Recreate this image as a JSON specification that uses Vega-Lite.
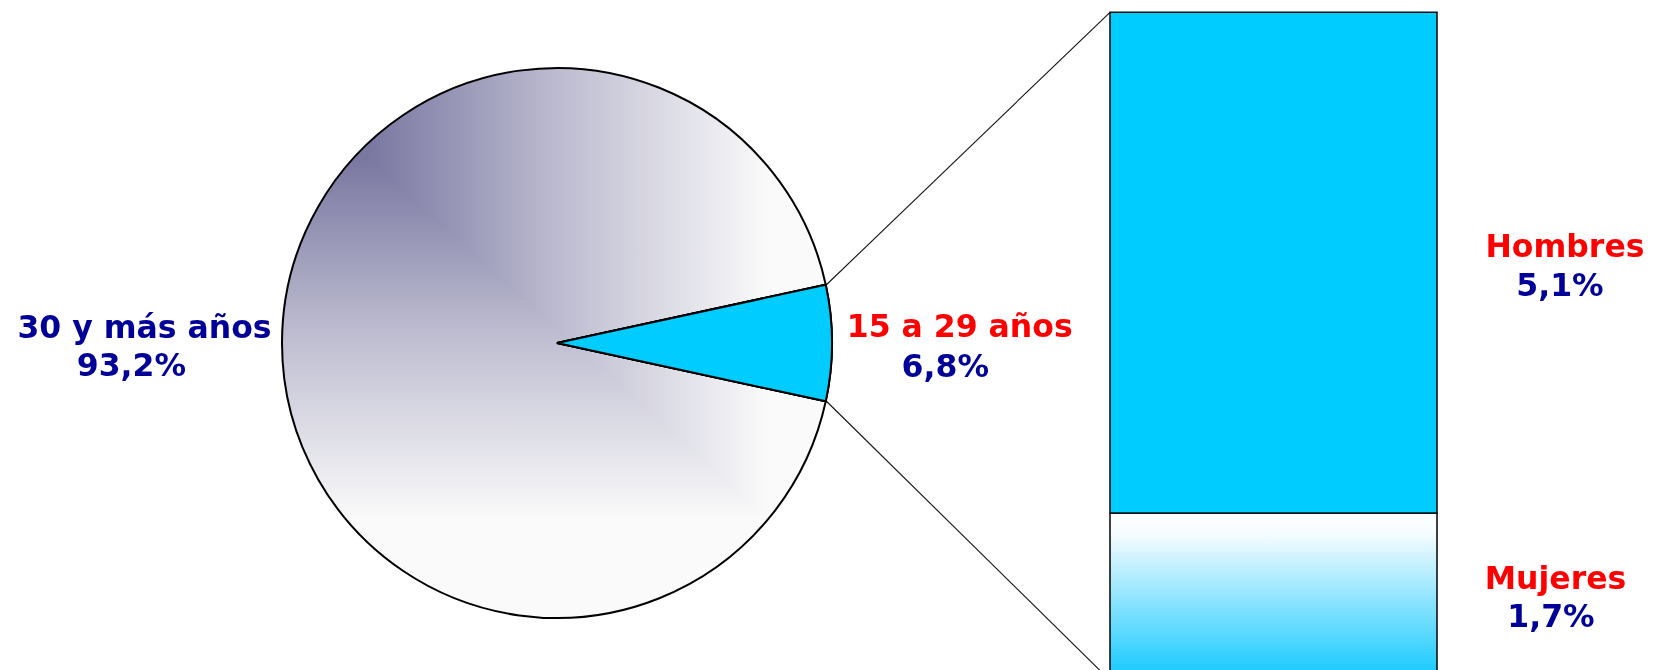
{
  "$schema": "https://vega.github.io/schema/vega-lite/v6.json",
  "width": 1654,
  "height": 670,
  "autosize": {"type": "none"},
  "padding": 0,
  "background": "#ffffff",
  "config": {"view": {"stroke": null}, "text": {"font": "DejaVu Sans", "fontWeight": "bold", "fontSize": 31.5}},
  "datasets": {
    "edades": [
      {"grupo": "15 a 29 años", "pct": 6.8},
      {"grupo": "30 y más años", "pct": 93.2}
    ],
    "sexo": [
      {"sexo": "Hombres", "pct": 5.1},
      {"sexo": "Mujeres", "pct": 1.7}
    ]
  },
  "layer": [
    {
      "data": {"name": "edades"},
      "transform": [
        {"stack": "pct", "groupby": [], "sort": [{"field": "pct", "order": "ascending"}], "as": ["t0", "t1"]},
        {"filter": "datum.grupo === '30 y más años'"}
      ],
      "mark": {"type": "arc", "outerRadius": 275, "strokeWidth": 0,
        "fill": {"gradient": "linear", "x1": 0.161, "y1": 0, "x2": 0.895, "y2": 0,
          "stops": [
            {"offset": 0, "color": "#7a78a1"},
            {"offset": 0.5, "color": "#c0bfd2"},
            {"offset": 1, "color": "#fafafa"}
          ]}},
      "encoding": {
        "theta": {"field": "t0", "type": "quantitative", "scale": {"domain": [0, 100], "range": [1.35717, 7.64036]}},
        "theta2": {"field": "t1"},
        "x": {"datum": 557, "type": "quantitative", "scale": {"domain": [0, 1654], "nice": false, "zero": false}, "axis": null},
        "y": {"datum": 3.4334, "type": "quantitative", "scale": {"domain": [0.105, 6.925], "nice": false, "zero": false}, "axis": null}
      }
    },
    {
      "data": {"name": "edades"},
      "transform": [
        {"stack": "pct", "groupby": [], "sort": [{"field": "pct", "order": "ascending"}], "as": ["t0", "t1"]},
        {"filter": "datum.grupo === '30 y más años'"}
      ],
      "mark": {"type": "arc", "outerRadius": 275, "strokeWidth": 0, "blend": "lighten",
        "fill": {"gradient": "linear", "x1": 0, "y1": 0.167, "x2": 0, "y2": 0.822,
          "stops": [
            {"offset": 0, "color": "#7a78a1"},
            {"offset": 0.5, "color": "#c0bfd2"},
            {"offset": 1, "color": "#fafafa"}
          ]}},
      "encoding": {
        "theta": {"field": "t0", "type": "quantitative", "scale": {"domain": [0, 100], "range": [1.35717, 7.64036]}},
        "theta2": {"field": "t1"},
        "x": {"datum": 557, "type": "quantitative", "scale": {"domain": [0, 1654], "nice": false, "zero": false}, "axis": null},
        "y": {"datum": 3.4334, "type": "quantitative", "scale": {"domain": [0.105, 6.925], "nice": false, "zero": false}, "axis": null}
      }
    },
    {
      "data": {"name": "edades"},
      "transform": [
        {"stack": "pct", "groupby": [], "sort": [{"field": "pct", "order": "ascending"}], "as": ["t0", "t1"]}
      ],
      "mark": {"type": "arc", "outerRadius": 275, "stroke": "#000000", "strokeWidth": 2, "fillOpacity": 0, "fill": "#ffffff"},
      "encoding": {
        "theta": {"field": "t0", "type": "quantitative", "scale": {"domain": [0, 100], "range": [1.35717, 7.64036]}},
        "theta2": {"field": "t1"},
        "x": {"datum": 557, "type": "quantitative", "scale": {"domain": [0, 1654], "nice": false, "zero": false}, "axis": null},
        "y": {"datum": 3.4334, "type": "quantitative", "scale": {"domain": [0.105, 6.925], "nice": false, "zero": false}, "axis": null}
      }
    },
    {
      "data": {"name": "edades"},
      "transform": [
        {"stack": "pct", "groupby": [], "sort": [{"field": "pct", "order": "ascending"}], "as": ["t0", "t1"]},
        {"filter": "datum.grupo === '15 a 29 años'"}
      ],
      "mark": {"type": "arc", "outerRadius": 275, "stroke": "#000000", "strokeWidth": 2, "fill": "#00ccff"},
      "encoding": {
        "theta": {"field": "t0", "type": "quantitative", "scale": {"domain": [0, 100], "range": [1.35717, 7.64036]}},
        "theta2": {"field": "t1"},
        "x": {"datum": 557, "type": "quantitative", "scale": {"domain": [0, 1654], "nice": false, "zero": false}, "axis": null},
        "y": {"datum": 3.4334, "type": "quantitative", "scale": {"domain": [0.105, 6.925], "nice": false, "zero": false}, "axis": null}
      }
    },
    {
      "data": {"values": [{}]},
      "mark": {"type": "rule", "stroke": "#111111", "strokeWidth": 1.1, "clip": true},
      "encoding": {
        "x": {"datum": 826.7, "type": "quantitative", "scale": {"domain": [0, 1654], "nice": false, "zero": false}, "axis": null},
        "x2": {"datum": 1110},
        "y": {"datum": 4.029, "type": "quantitative", "scale": {"domain": [0.105, 6.925], "nice": false, "zero": false}, "axis": null},
        "y2": {"datum": 6.8}
      }
    },
    {
      "data": {"values": [{}]},
      "mark": {"type": "rule", "stroke": "#111111", "strokeWidth": 1.1, "clip": true},
      "encoding": {
        "x": {"datum": 826.7, "type": "quantitative", "scale": {"domain": [0, 1654], "nice": false, "zero": false}, "axis": null},
        "x2": {"datum": 1110},
        "y": {"datum": 2.838, "type": "quantitative", "scale": {"domain": [0.105, 6.925], "nice": false, "zero": false}, "axis": null},
        "y2": {"datum": 0}
      }
    },
    {
      "data": {"name": "sexo"},
      "transform": [
        {"stack": "pct", "groupby": [], "sort": [{"field": "pct", "order": "ascending"}], "as": ["y0", "y1"]},
        {"filter": "datum.sexo === 'Hombres'"}
      ],
      "mark": {"type": "rect", "fill": "#00ccff", "stroke": "#111111", "strokeWidth": 1.6, "clip": true},
      "encoding": {
        "x": {"datum": 1110, "type": "quantitative", "scale": {"domain": [0, 1654], "nice": false, "zero": false}, "axis": null},
        "x2": {"datum": 1437},
        "y": {"field": "y0", "type": "quantitative", "scale": {"domain": [0.105, 6.925], "nice": false, "zero": false}, "axis": null},
        "y2": {"field": "y1"}
      }
    },
    {
      "data": {"name": "sexo"},
      "transform": [
        {"stack": "pct", "groupby": [], "sort": [{"field": "pct", "order": "ascending"}], "as": ["y0", "y1"]},
        {"filter": "datum.sexo === 'Mujeres'"}
      ],
      "mark": {"type": "rect", "stroke": "#111111", "strokeWidth": 1.6, "clip": true,
        "fill": {"gradient": "linear", "x1": 0, "y1": 0, "x2": 0, "y2": 1,
          "stops": [
            {"offset": 0, "color": "#ffffff"},
            {"offset": 0.12, "color": "#f6fcff"},
            {"offset": 1, "color": "#10c8ff"}
          ]}},
      "encoding": {
        "x": {"datum": 1110, "type": "quantitative", "scale": {"domain": [0, 1654], "nice": false, "zero": false}, "axis": null},
        "x2": {"datum": 1437},
        "y": {"field": "y0", "type": "quantitative", "scale": {"domain": [0.105, 6.925], "nice": false, "zero": false}, "axis": null},
        "y2": {"field": "y1"}
      }
    },
    {
      "data": {"name": "edades"},
      "transform": [{"filter": "datum.grupo === '30 y más años'"}],
      "mark": {"type": "text", "align": "center", "baseline": "alphabetic", "fill": "#000099"},
      "encoding": {
        "text": {"field": "grupo"},
        "x": {"datum": 144.5, "type": "quantitative", "scale": {"domain": [0, 1654], "nice": false, "zero": false}, "axis": null},
        "y": {"datum": 3.487, "type": "quantitative", "scale": {"domain": [0.105, 6.925], "nice": false, "zero": false}, "axis": null}
      }
    },
    {
      "data": {"name": "edades"},
      "transform": [
        {"filter": "datum.grupo === '30 y más años'"},
        {"calculate": "replace(format(datum.pct, '.1f'), '.', ',') + '%'", "as": "lbl"}
      ],
      "mark": {"type": "text", "align": "center", "baseline": "alphabetic", "fill": "#000099"},
      "encoding": {
        "text": {"field": "lbl"},
        "x": {"datum": 131.4, "type": "quantitative", "scale": {"domain": [0, 1654], "nice": false, "zero": false}, "axis": null},
        "y": {"datum": 3.0975, "type": "quantitative", "scale": {"domain": [0.105, 6.925], "nice": false, "zero": false}, "axis": null}
      }
    },
    {
      "data": {"name": "edades"},
      "transform": [{"filter": "datum.grupo === '15 a 29 años'"}],
      "mark": {"type": "text", "align": "center", "baseline": "alphabetic", "fill": "#ff0000"},
      "encoding": {
        "text": {"field": "grupo"},
        "x": {"datum": 959.7, "type": "quantitative", "scale": {"domain": [0, 1654], "nice": false, "zero": false}, "axis": null},
        "y": {"datum": 3.4976, "type": "quantitative", "scale": {"domain": [0.105, 6.925], "nice": false, "zero": false}, "axis": null}
      }
    },
    {
      "data": {"name": "edades"},
      "transform": [
        {"filter": "datum.grupo === '15 a 29 años'"},
        {"calculate": "replace(format(datum.pct, '.1f'), '.', ',') + '%'", "as": "lbl"}
      ],
      "mark": {"type": "text", "align": "center", "baseline": "alphabetic", "fill": "#000099"},
      "encoding": {
        "text": {"field": "lbl"},
        "x": {"datum": 945.3, "type": "quantitative", "scale": {"domain": [0, 1654], "nice": false, "zero": false}, "axis": null},
        "y": {"datum": 3.0843, "type": "quantitative", "scale": {"domain": [0.105, 6.925], "nice": false, "zero": false}, "axis": null}
      }
    },
    {
      "data": {"name": "sexo"},
      "transform": [{"filter": "datum.sexo === 'Hombres'"}],
      "mark": {"type": "text", "align": "center", "baseline": "alphabetic", "fill": "#ff0000"},
      "encoding": {
        "text": {"field": "sexo"},
        "x": {"datum": 1565, "type": "quantitative", "scale": {"domain": [0, 1654], "nice": false, "zero": false}, "axis": null},
        "y": {"datum": 4.3058, "type": "quantitative", "scale": {"domain": [0.105, 6.925], "nice": false, "zero": false}, "axis": null}
      }
    },
    {
      "data": {"name": "sexo"},
      "transform": [
        {"filter": "datum.sexo === 'Hombres'"},
        {"calculate": "replace(format(datum.pct, '.1f'), '.', ',') + '%'", "as": "lbl"}
      ],
      "mark": {"type": "text", "align": "center", "baseline": "alphabetic", "fill": "#000099"},
      "encoding": {
        "text": {"field": "lbl"},
        "x": {"datum": 1560, "type": "quantitative", "scale": {"domain": [0, 1654], "nice": false, "zero": false}, "axis": null},
        "y": {"datum": 3.9119, "type": "quantitative", "scale": {"domain": [0.105, 6.925], "nice": false, "zero": false}, "axis": null}
      }
    },
    {
      "data": {"name": "sexo"},
      "transform": [{"filter": "datum.sexo === 'Mujeres'"}],
      "mark": {"type": "text", "align": "center", "baseline": "alphabetic", "fill": "#ff0000"},
      "encoding": {
        "text": {"field": "sexo"},
        "x": {"datum": 1555.5, "type": "quantitative", "scale": {"domain": [0, 1654], "nice": false, "zero": false}, "axis": null},
        "y": {"datum": 0.9294, "type": "quantitative", "scale": {"domain": [0.105, 6.925], "nice": false, "zero": false}, "axis": null}
      }
    },
    {
      "data": {"name": "sexo"},
      "transform": [
        {"filter": "datum.sexo === 'Mujeres'"},
        {"calculate": "replace(format(datum.pct, '.1f'), '.', ',') + '%'", "as": "lbl"}
      ],
      "mark": {"type": "text", "align": "center", "baseline": "alphabetic", "fill": "#000099"},
      "encoding": {
        "text": {"field": "lbl"},
        "x": {"datum": 1551, "type": "quantitative", "scale": {"domain": [0, 1654], "nice": false, "zero": false}, "axis": null},
        "y": {"datum": 0.5425, "type": "quantitative", "scale": {"domain": [0.105, 6.925], "nice": false, "zero": false}, "axis": null}
      }
    }
  ]
}
